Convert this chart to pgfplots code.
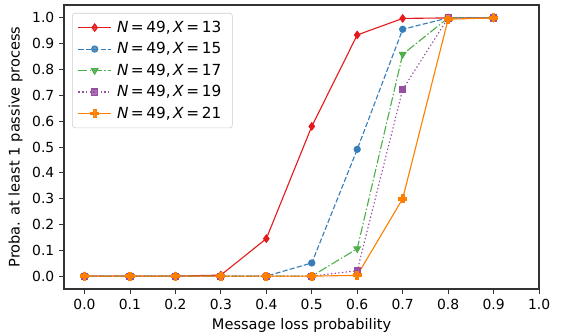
\documentclass[border=0pt]{standalone}
\usepackage{fontspec}
\setmainfont{DejaVu Sans}
\usepackage{pgfplots}
\pgfplotsset{compat=1.18}
\definecolor{cred}{HTML}{E41A1C}
\definecolor{cblue}{HTML}{377EB8}
\definecolor{cgreen}{HTML}{4DAF4A}
\definecolor{cpurple}{HTML}{984EA3}
\definecolor{corange}{HTML}{FF7F00}
\pgfdeclareplotmark{Pfill}{%
  \pgfpathmoveto{\pgfqpoint{-0.333\pgfplotmarksize}{-\pgfplotmarksize}}%
  \pgfpathlineto{\pgfqpoint{0.333\pgfplotmarksize}{-\pgfplotmarksize}}%
  \pgfpathlineto{\pgfqpoint{0.333\pgfplotmarksize}{-0.333\pgfplotmarksize}}%
  \pgfpathlineto{\pgfqpoint{\pgfplotmarksize}{-0.333\pgfplotmarksize}}%
  \pgfpathlineto{\pgfqpoint{\pgfplotmarksize}{0.333\pgfplotmarksize}}%
  \pgfpathlineto{\pgfqpoint{0.333\pgfplotmarksize}{0.333\pgfplotmarksize}}%
  \pgfpathlineto{\pgfqpoint{0.333\pgfplotmarksize}{\pgfplotmarksize}}%
  \pgfpathlineto{\pgfqpoint{-0.333\pgfplotmarksize}{\pgfplotmarksize}}%
  \pgfpathlineto{\pgfqpoint{-0.333\pgfplotmarksize}{0.333\pgfplotmarksize}}%
  \pgfpathlineto{\pgfqpoint{-\pgfplotmarksize}{0.333\pgfplotmarksize}}%
  \pgfpathlineto{\pgfqpoint{-\pgfplotmarksize}{-0.333\pgfplotmarksize}}%
  \pgfpathlineto{\pgfqpoint{-0.333\pgfplotmarksize}{-0.333\pgfplotmarksize}}%
  \pgfpathclose\pgfusepathqfillstroke}
\begin{document}
\begin{tikzpicture}
\useasboundingbox (-46.1pt,-31pt) rectangle (361.4pt,208.1pt);
\begin{axis}[
  at={(0,0)}, anchor=south west,
  scale only axis, width=342pt, height=204.5pt,
  xmin=-0.045, xmax=1.0, ymin=-0.05, ymax=1.05,
  xtick={0,0.1,...,1.0}, ytick={0,0.1,...,1.0},
  /pgf/number format/.cd, fixed, fixed zerofill, precision=1, assume math mode=true,
  /pgfplots/.cd,
  tick label style={font=\fontsize{10}{12}\selectfont},
  label style={font=\fontsize{10.5}{12}\selectfont},
  xlabel={Message loss probability},
  ylabel={Proba. at least 1 passive process},
  tick align=outside, tick pos=left,
  major tick length=3.5pt,
  axis line style={black!80, line width=0.8pt},
  every tick/.style={black!80, line width=0.6pt},
  legend style={at={(0.017,0.972)}, anchor=north west,
    draw=black!20, rounded corners=2pt, fill=white, fill opacity=0.8, text opacity=1,
    font=\fontsize{11}{14}\selectfont, row sep=1.8pt, inner xsep=4pt, inner ysep=3.5pt,
    nodes={inner xsep=4pt}},
  legend cell align=left,
  legend image code/.code={
    \draw[mark repeat=2,mark phase=2] plot coordinates {(0cm,0cm) (0.41cm,0cm) (0.82cm,0cm)};},
  every axis plot/.append style={line width=0.8pt, mark size=2.6pt},
]
\addplot[cred, solid, mark=diamond*, mark options={solid, fill=cred}] coordinates {
(0,0) (0.1,0) (0.2,0) (0.3,0.004) (0.4,0.145) (0.5,0.58) (0.6,0.934) (0.7,0.998) (0.8,1.0) (0.9,1.0)};
\addlegendentry{\textit{N}\,=\,49,\,\textit{X}\,=\,13}
\addplot[cblue, dash pattern=on 3.7pt off 1.6pt, mark=*, mark options={solid, fill=cblue}, mark size=2.2pt] coordinates {
(0,0) (0.1,0) (0.2,0) (0.3,0) (0.4,0) (0.5,0.051) (0.6,0.491) (0.7,0.956) (0.8,1.0) (0.9,1.0)};
\addlegendentry{\textit{N}\,=\,49,\,\textit{X}\,=\,15}
\addplot[cgreen, dash pattern=on 6.4pt off 1.6pt on 1pt off 1.6pt, mark=triangle*, mark options={solid, fill=cgreen, rotate=180}] coordinates {
(0,0) (0.1,0) (0.2,0) (0.3,0) (0.4,0) (0.5,0) (0.6,0.106) (0.7,0.859) (0.8,1.0) (0.9,1.0)};
\addlegendentry{\textit{N}\,=\,49,\,\textit{X}\,=\,17}
\addplot[cpurple, dash pattern=on 1pt off 1.65pt, mark=square*, mark options={solid, fill=cpurple}, mark size=2.2pt] coordinates {
(0,0) (0.1,0) (0.2,0) (0.3,0) (0.4,0) (0.5,0) (0.6,0.021) (0.7,0.723) (0.8,1.0) (0.9,1.0)};
\addlegendentry{\textit{N}\,=\,49,\,\textit{X}\,=\,19}
\addplot[corange, solid, mark=Pfill, mark options={solid, fill=corange}, mark size=2.9pt] coordinates {
(0,0) (0.1,0) (0.2,0) (0.3,0) (0.4,0) (0.5,0) (0.6,0.003) (0.7,0.30) (0.8,0.995) (0.9,1.0)};
\addlegendentry{\textit{N}\,=\,49,\,\textit{X}\,=\,21}
\end{axis}
\end{tikzpicture}
\end{document}
